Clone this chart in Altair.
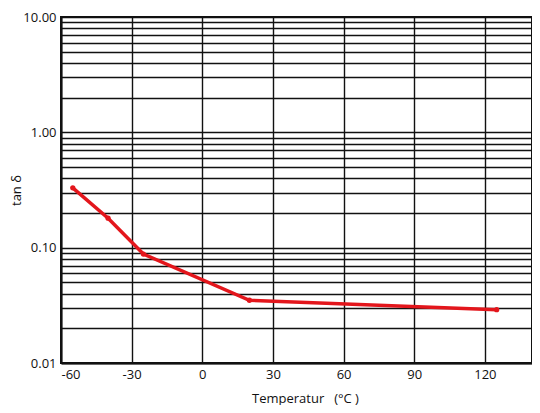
import pandas as pd
import altair as alt

temperature = [-55, -40, -25, 20, 125]
tan_delta = [0.33, 0.18, 0.088, 0.035, 0.029]

x_ticks = [-60, -30, 0, 30, 60, 90, 120]
y_grid = [m * 10.0 ** e for e in (-2, -1, 0) for m in range(1, 10)] + [10.0]

df = pd.DataFrame({"temp": temperature, "tand": tan_delta})

FONT = "Open Sans"

base = alt.Chart(df).encode(
    x=alt.X(
        "temp:Q",
        scale=alt.Scale(domain=[-60, 140], nice=False, zero=False),
        axis=alt.Axis(
            values=x_ticks,
            labelExpr="toString(datum.value)",
            title="Temperatur\u2002 (°C )",
            titleX=244,
            titleY=35,
            titleAlign="center",
            titleBaseline="middle",
            ticks=False,
            labelPadding=5,
            grid=True,
        ),
    ),
    y=alt.Y(
        "tand:Q",
        scale=alt.Scale(type="log", domain=[0.01, 10], nice=False),
        axis=alt.Axis(
            values=y_grid,
            labelExpr="abs(log(datum.value)/LN10 - round(log(datum.value)/LN10)) < 0.001 ? format(datum.value, '.2f') : ''",
            title="tan δ",
            titleX=-45,
            titleY=173,
            titleAlign="center",
            titleBaseline="middle",
            ticks=False,
            labelPadding=5,
            grid=True,
        ),
    ),
)

line = base.mark_line(color="#e3161c", strokeWidth=3.5)
dots = base.mark_circle(color="#e3161c", size=28, opacity=1)

chart = (
    (line + dots)
    .properties(
        width=471,
        height=346,
        autosize=alt.AutoSizeParams(type="none"),
        padding={"left": 53, "top": 9, "right": 0, "bottom": 42},
    )
    .configure_view(stroke="#111111", strokeWidth=2)
    .configure_axis(
        gridColor="#111111",
        gridWidth=1.4,
        gridOpacity=1,
        domainColor="#111111",
        domainWidth=2,
        labelFont=FONT,
        labelFontSize=13,
        labelColor="#111111",
        titleFont=FONT,
        titleFontSize=13,
        titleFontWeight="normal",
        titleColor="#111111",
    )
)

chart.save("out.html", embed_options={"renderer": "svg", "actions": False})
